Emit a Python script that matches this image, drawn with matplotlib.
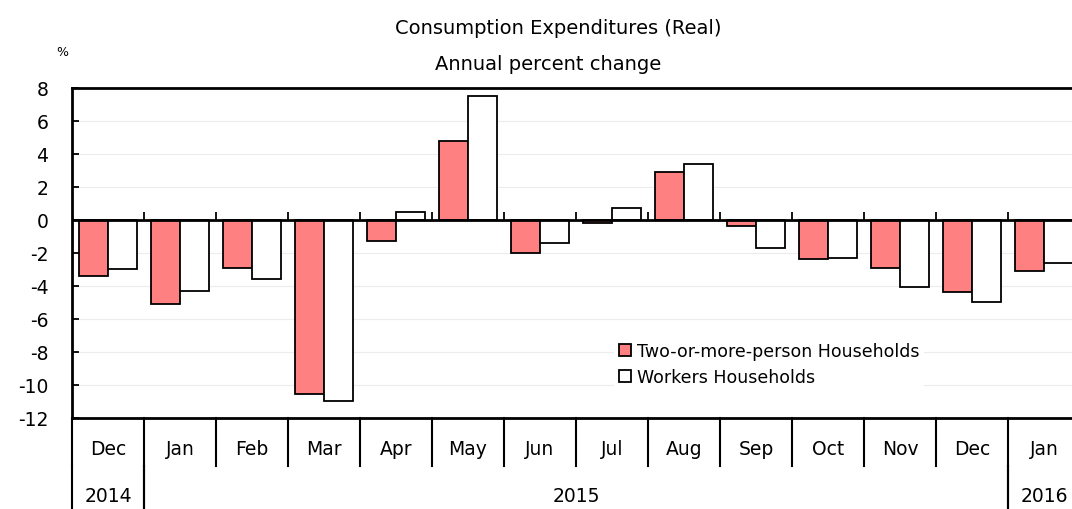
import numpy as np
import matplotlib.pyplot as plt
import matplotlib.transforms as mtransforms

# data
months = ["Dec", "Jan", "Feb", "Mar", "Apr", "May", "Jun", "Jul", "Aug", "Sep", "Oct", "Nov", "Dec", "Jan"]
years = ["2014", "2015", "2016"]
year_span = [(0, 1), (1, 13), (13, 14)]  # category index ranges for each year
two_plus = [-3.4, -5.1, -2.9, -10.6, -1.3, 4.8, -2.0, -0.2, 2.9, -0.4, -2.4, -2.9, -4.4, -3.1]
workers = [-3.0, -4.3, -3.6, -11.0, 0.5, 7.5, -1.4, 0.7, 3.4, -1.7, -2.3, -4.1, -5.0, -2.6]

plt.rcParams["font.family"] = "DejaVu Sans"
plt.rcParams["font.size"] = 12
plt.rcParams["axes.unicode_minus"] = False

fig = plt.figure(figsize=(10.72, 5.10), dpi=100)
W, H = 1072, 510
# axes runs past the right edge, as in the reference (cropped)
ax = fig.add_axes([72 / W, (H - 418.5) / H, 1008 / W, (418.5 - 89) / H])

x = np.arange(len(months))
bw = 0.4
ax.bar(x - bw / 2, two_plus, bw, color="#ff8080", edgecolor="black", linewidth=1.3,
       label="Two-or-more-person Households", zorder=3)
ax.bar(x + bw / 2, workers, bw, color="white", edgecolor="black", linewidth=1.3,
       label="Workers Households", zorder=3)

ax.set_xlim(-0.5, len(months) - 0.5)
ax.set_ylim(-12, 8)
ax.set_yticks(np.arange(-12, 9, 2))
ax.yaxis.grid(True, color="#ececec", linewidth=0.8, zorder=0)
ax.tick_params(axis="y", direction="in", length=5, width=1.3, labelsize=13.5, pad=17)
ax.set_xticks([])
for s in ["top", "left", "bottom"]:
    ax.spines[s].set_linewidth(2)
ax.spines["right"].set_visible(False)
ax.axhline(0, color="black", linewidth=2, zorder=4)

# small ticks above the zero line at category boundaries
bounds = np.arange(len(months) + 1) - 0.5
ax.vlines(bounds[1:-1], 0, 0.45, color="black", linewidth=1.3, zorder=4)

# category labels under the plot
trans = mtransforms.blended_transform_factory(ax.transData, fig.transFigure)
def fy(py):
    return (H - py) / H

for i, m in enumerate(months):
    ax.text(i, fy(450), m, transform=trans, ha="center", va="center", fontsize=13.5)
for b in bounds:
    ax.plot([b, b], [fy(418.5), fy(467)], transform=trans, color="black", lw=1.5, clip_on=False)
for (a, b), yr in zip(year_span, years):
    ax.text((a + b - 1) / 2, fy(497), yr, transform=trans, ha="center", va="center", fontsize=13.5)
    for bb in (a - 0.5, b - 0.5):
        ax.plot([bb, bb], [fy(467), fy(515)], transform=trans, color="black", lw=1.5, clip_on=False)

fig.text(558 / W, fy(28), "Consumption Expenditures (Real)", ha="center", va="center", fontsize=14)
fig.text(548 / W, fy(64), "Annual percent change", ha="center", va="center", fontsize=14)
fig.text(62 / W, fy(52), "%", ha="center", va="center", fontsize=9)

leg = ax.legend(loc="upper left", bbox_to_anchor=(614 / W, fy(338)), bbox_transform=fig.transFigure,
                frameon=True, fancybox=False, edgecolor="none", facecolor="white", framealpha=1,
                handlelength=0.7, handleheight=0.7, handletextpad=0.3, labelspacing=0.45,
                borderaxespad=0, borderpad=0.3, fontsize=12.5)

fig.savefig("out.png", dpi=100)
